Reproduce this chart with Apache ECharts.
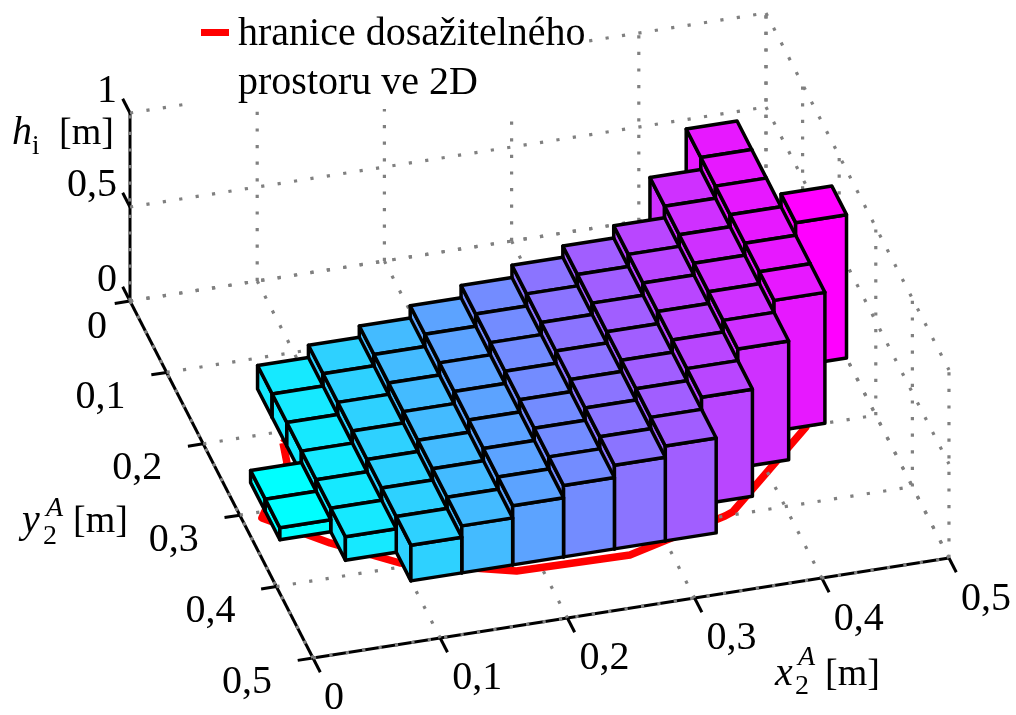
<!DOCTYPE html>
<html>
<head>
<meta charset="utf-8">
<style>html,body{margin:0;padding:0;background:#fff}#c{width:1016px;height:715px}</style>
<script src="https://cdn.jsdelivr.net/npm/echarts@6/dist/echarts.min.js"></script>
</head>
<body>
<div id="c"></div>
<script>
// ---- data ----
const xTicks = [0, 0.1, 0.2, 0.3, 0.4, 0.5];
const yTicks = [0, 0.1, 0.2, 0.3, 0.4, 0.5];
const zTicks = [0, 0.5, 1];
const xTickLabels = ['0', '0,1', '0,2', '0,3', '0,4', '0,5'];
const yTickLabels = ['0', '0,1', '0,2', '0,3', '0,4', '0,5'];
const zTickLabels = ['0', '0,5', '1'];
const legendLines = ['hranice dosažitelného', 'prostoru ve 2D'];

// bar columns: x centre of each column, first / last y centre, common column height
const columnX     = [0.04, 0.08, 0.12, 0.16, 0.20, 0.24, 0.28, 0.32, 0.36, 0.40, 0.44, 0.48];
const columnFromY = [0.28, 0.16, 0.16, 0.16, 0.16, 0.16, 0.16, 0.16, 0.16, 0.12, 0.08, 0.20];
const columnToY   = [0.32, 0.36, 0.40, 0.40, 0.40, 0.40, 0.40, 0.40, 0.36, 0.32, 0.28, 0.20];
const columnH     = [0.064, 0.125, 0.19, 0.25, 0.315, 0.38, 0.445, 0.505, 0.57, 0.632, 0.696, 0.763];
const barWidth = 0.04;

// boundary of the reachable space in 2D (z = 0)
const redX = [0.0584, 0.0538, 0.0151, 0.0553, 0.0987, 0.1806, 0.269, 0.3527, 0.360, 0.4448, 0.47, 0.46, 0.42, 0.30, 0.10, 0.0584];
const redY = [0.2152, 0.242, 0.308, 0.3544, 0.3946, 0.4287, 0.431, 0.400, 0.396, 0.301, 0.22, 0.16, 0.10, 0.16, 0.17, 0.2152];

// ---- view: orthographic projection onto the two hidden value axes ----
const VIEW = {ux: 1, uy: 0.2877, vx: -0.1572, vy: 0.5613, vz: -0.1478};
function project(x, y, z) {
  return [VIEW.ux * x + VIEW.uy * y, VIEW.vx * x + VIEW.vy * y + VIEW.vz * z];
}
const SCALE = 1272, ORIGIN_X = 130, ORIGIN_Y = 301;

const FONT = '"Liberation Serif","Times New Roman",serif';
const tickFontSize = 40;

// ---- derived mark lists ----
function colorOf(h) {
  const t = (h - columnH[0]) / (columnH[columnH.length - 1] - columnH[0]);
  return 'rgb(' + Math.round(255 * t) + ',' + Math.round(255 * (1 - t)) + ',255)';
}
const bars = [];
for (let c = columnX.length - 1; c >= 0; c--) {
  const n = Math.round((columnToY[c] - columnFromY[c]) / barWidth);
  for (let k = 0; k <= n; k++) {
    bars.push([columnX[c], columnFromY[c] + k * barWidth, columnH[c]]);
  }
}
const xMax = xTicks[xTicks.length - 1], yMax = yTicks[yTicks.length - 1], zMax = zTicks[zTicks.length - 1];
const gridSegs = [];
xTicks.forEach(x => { gridSegs.push([x, 0, 0, x, 0, zMax]); gridSegs.push([x, 0, 0, x, yMax, 0]); });
yTicks.forEach(y => { gridSegs.push([xMax, y, 0, xMax, y, zMax]); gridSegs.push([0, y, 0, xMax, y, 0]); });
zTicks.forEach(z => { gridSegs.push([0, 0, z, xMax, 0, z]); gridSegs.push(z === 0 ? [xMax, yMax, z, xMax, 0, z] : [xMax, 0, z, xMax, yMax, z]); });

const axisSegs = [[0, 0, 0, 0, 0, zMax], [0, 0, 0, 0, yMax, 0], [0, yMax, 0, xMax, yMax, 0]];
xTicks.forEach(x => axisSegs.push([x, yMax, 0, x, yMax + 0.02, 0]));
yTicks.forEach(y => axisSegs.push([0, y, 0, -0.012, y, 0]));
zTicks.forEach(z => axisSegs.push([0, 0, z, 0, -0.02, z]));

const labels = [];
xTicks.forEach((x, i) => labels.push({p: [x, yMax, 0], t: xTickLabels[i], dx: i === 0 ? 21 : 37, dy: 41, a: 'center'}));
yTicks.forEach((y, i) => labels.push({p: [0, y, 0], t: yTickLabels[i], dx: i === 0 ? -33 : -66, dy: i === 0 ? 26 : 25, a: 'center'}));
zTicks.forEach((z, i) => labels.push({p: [0, 0, z], t: zTickLabels[i], dx: -13, dy: -21, a: 'right'}));

function segRenderer(style) {
  return function (params, api) {
    const a = api.coord(project(api.value(0), api.value(1), api.value(2)));
    const b = api.coord(project(api.value(3), api.value(4), api.value(5)));
    return {type: 'line', shape: {x1: a[0], y1: a[1], x2: b[0], y2: b[1]}, style: style};
  };
}
function barRenderer(params, api) {
  const xc = api.value(0), yc = api.value(1), h = api.value(2), w = barWidth / 2;
  const P = (x, y, z) => api.coord(project(x, y, z));
  const style = {fill: colorOf(h), stroke: '#000', lineWidth: 3.5, lineJoin: 'round'};
  const x0 = xc - w, x1 = xc + w, y0 = yc - w, y1 = yc + w;
  const face = pts => ({type: 'polygon', shape: {points: pts}, style: style});
  return {type: 'group', children: [
    face([P(x0, y0, 0), P(x0, y1, 0), P(x0, y1, h), P(x0, y0, h)]),
    face([P(x0, y1, 0), P(x1, y1, 0), P(x1, y1, h), P(x0, y1, h)]),
    face([P(x0, y0, h), P(x1, y0, h), P(x1, y1, h), P(x0, y1, h)])
  ]};
}
function labelRenderer(params, api) {
  const l = labels[params.dataIndex];
  const c = api.coord(project(l.p[0], l.p[1], l.p[2]));
  return {type: 'text', x: c[0] + l.dx, y: c[1] + l.dy, style: {
    text: l.t, fill: '#000', font: tickFontSize + 'px ' + FONT, align: l.a, verticalAlign: 'middle'
  }};
}
function txt(text, x, baseline, size, italic) {
  return {type: 'text', z: 8, silent: true, x: x, y: baseline - 0.30 * size, style: {
    text: text, fill: '#000', font: (italic ? 'italic ' : '') + size + 'px ' + FONT, align: 'left', verticalAlign: 'middle'
  }};
}

const chart = echarts.init(document.getElementById('c'), null, {renderer: 'canvas', width: 1016, height: 715});
chart.setOption({
  animation: false,
  backgroundColor: '#fff',
  grid: {left: 0, right: 0, top: 0, bottom: 0, containLabel: false},
  xAxis: {type: 'value', show: false, min: -ORIGIN_X / SCALE, max: (1016 - ORIGIN_X) / SCALE, scale: true},
  yAxis: {type: 'value', show: false, inverse: true, min: -ORIGIN_Y / SCALE, max: (715 - ORIGIN_Y) / SCALE, scale: true},
  series: [
    {name: 'osy', type: 'custom', z: 1, clip: false, silent: true, encode: {x: 0, y: 1},
     renderItem: segRenderer({stroke: '#000', lineWidth: 3, lineCap: 'butt'}), data: axisSegs},
    {name: legendLines.join(' '), type: 'line', z: 2, silent: true, showSymbol: false, symbol: 'none',
     lineStyle: {color: '#ff0000', width: 7.5, join: 'round'},
     data: redX.map((x, i) => project(x, redY[i], 0))},
    {name: 'mřížka', type: 'custom', z: 3, clip: false, silent: true, encode: {x: 0, y: 1},
     renderItem: segRenderer({stroke: '#808080', lineWidth: 3.2, lineDash: [3.2, 13.4], lineCap: 'butt'}), data: gridSegs},
    {name: 'h', type: 'custom', z: 6, clip: false, silent: true, encode: {x: 0, y: 1},
     renderItem: barRenderer, data: bars},
    {name: 'popisky', type: 'custom', z: 7, clip: false, silent: true, encode: {x: 0, y: 1},
     renderItem: labelRenderer, data: labels.map(l => project(l.p[0], l.p[1], l.p[2]))}
  ],
  graphic: {elements: [
    {type: 'rect', z: 5, silent: true, shape: {x: 192, y: 10, width: 396, height: 99}, style: {fill: '#fff'}},
    {type: 'rect', z: 8, silent: true, shape: {x: 201, y: 29, width: 28, height: 7}, style: {fill: '#ff0000'}},
    txt(legendLines[0], 238, 46.7, 40, false),
    txt(legendLines[1], 238, 95.5, 40, false),
    txt('h', 12, 145, 40, true),
    txt('i', 32, 155, 27, false),
    txt('[m]', 59, 145, 38, false),
    txt('y', 22, 533, 40, true),
    txt('2', 43, 545, 28, false),
    txt('A', 46, 517, 28, true),
    txt('[m]', 73, 533, 38, false),
    txt('x', 775, 686, 40, true),
    txt('2', 795, 695, 28, false),
    txt('A', 798, 666, 28, true),
    txt('[m]', 825, 686, 38, false)
  ]}
});
</script>
</body>
</html>
